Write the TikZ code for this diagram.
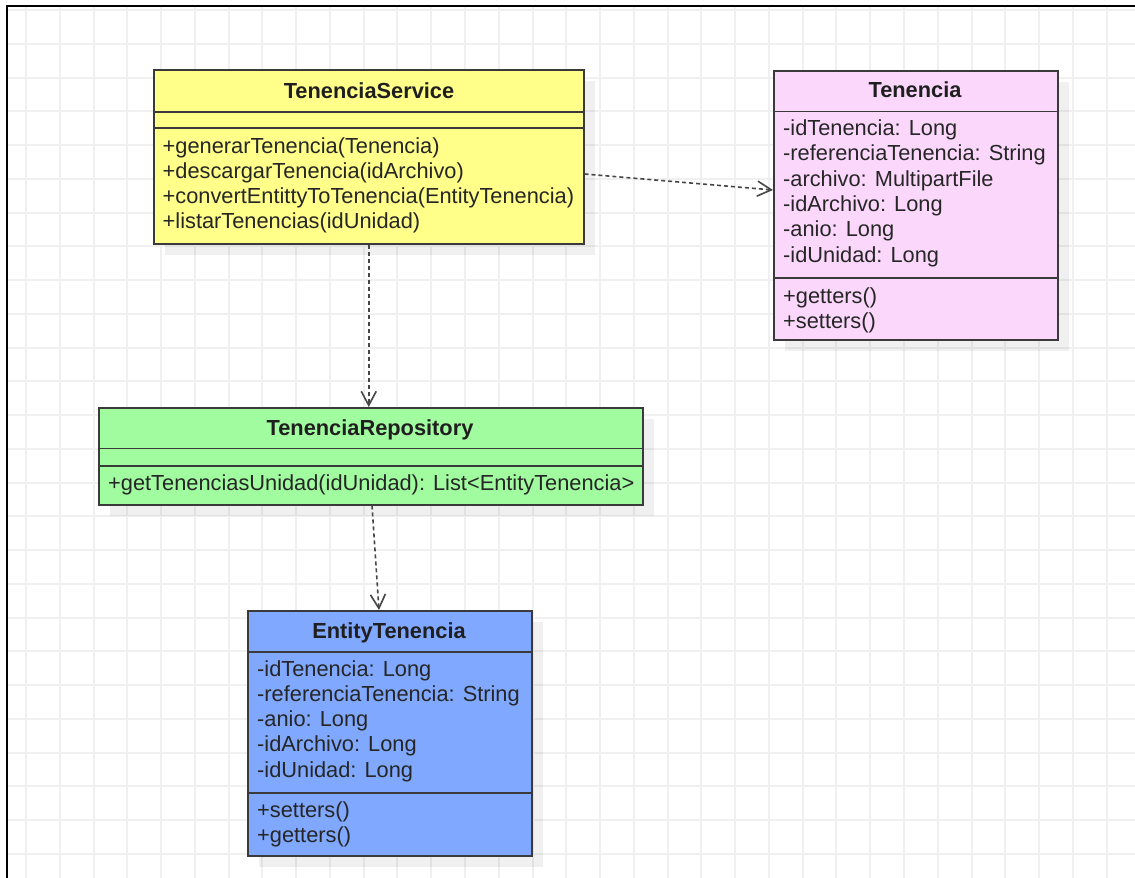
\documentclass[tikz,border=0pt]{standalone}
\usepackage{fontspec}
\setmainfont{Liberation Sans}
\usetikzlibrary{arrows.meta}
\usetikzlibrary{shadows}
\definecolor{svcyellow}{RGB}{255,255,138}
\definecolor{tenpink}{RGB}{251,216,251}
\definecolor{repogreen}{RGB}{161,252,160}
\definecolor{entblue}{RGB}{127,168,254}
\definecolor{boxedge}{RGB}{58,58,58}
\definecolor{gridgray}{RGB}{240,240,240}
\definecolor{depgray}{RGB}{70,70,70}
\tikzstyle{class box}=[draw=boxedge, line width=1.5pt, inner sep=0, anchor=north west, drop shadow={shadow xshift=11pt, shadow yshift=-11pt, fill=black, opacity=0.06}]
\tikzstyle{class rule}=[draw=boxedge, line width=1.5pt]
\tikzstyle{class name}=[font=\fontsize{21.8}{25}\selectfont\bfseries, text=black!88, inner sep=0, text height=17.5pt, text depth=3pt]
\tikzstyle{member}=[font=\fontsize{21.8}{25}\selectfont, text=black!85, inner sep=0, anchor=west, text height=17.5pt, text depth=3pt]
\tikzstyle{dependency}=[draw=depgray, line width=1.6pt, dash pattern=on 4pt off 3pt, -{Straight Barb[length=14pt, width=15pt]}]
\tikzstyle{gridline}=[draw=gridgray, line width=2pt]

\begin{document}
\begin{tikzpicture}[x=1pt, y=-1pt]
  \useasboundingbox (0,0) rectangle (1135,878);
  % background grid
  \begin{scope}
    \clip (7,6) rectangle (1135,878);
    \foreach \i in {0,...,32}
      \draw[gridline] (26+33.77*\i,0) -- (26+33.77*\i,878);
    \foreach \j in {0,...,26}
      \draw[gridline] (0,10+33.76*\j) -- (1135,10+33.76*\j);
  \end{scope}
  \draw[line width=2.5pt] (7,878) -- (7,6) -- (1135,6);

  \node[class box, fill=svcyellow, minimum width=430pt, minimum height=174pt] (svc) at (153,69) {};
  \node[class name] (svc-name) at (369,91) {TenenciaService};
  \draw[class rule] (svc.west |- 0,112) -- (svc.east |- 0,112);
  \draw[class rule] (svc.west |- 0,128) -- (svc.east |- 0,128);
  \foreach \t [count=\i] in {+generarTenencia(Tenencia), +descargarTenencia(idArchivo),
      +convertEntittyToTenencia(EntityTenencia), +listarTenencias(idUnidad)}
    \node[member] (svc-op\i) at (162.5,121.7+25*\i) {\t};

  \node[class box, fill=tenpink, minimum width=284pt, minimum height=269pt] (ten) at (773,70) {};
  \node[class name] (ten-name) at (915,90.7) {Tenencia};
  \draw[class rule] (ten.west |- 0,111.7) -- (ten.east |- 0,111.7);
  \draw[class rule] (ten.west |- 0,278) -- (ten.east |- 0,278);
  \foreach \t [count=\i] in {-idTenencia: Long, -referenciaTenencia: String, -archivo: MultipartFile,
      -idArchivo: Long, -anio: Long, -idUnidad: Long}
    \node[member] (ten-at\i) at (783,103+25.3*\i) {\t};
  \foreach \t [count=\i] in {+getters(), +setters()}
    \node[member] (ten-op\i) at (783,270.5+25.3*\i) {\t};

  \node[class box, fill=repogreen, minimum width=544pt, minimum height=97pt] (repo) at (98,407) {};
  \node[class name] (repo-name) at (370,428) {TenenciaRepository};
  \draw[class rule] (repo.west |- 0,448.3) -- (repo.east |- 0,448.3);
  \draw[class rule] (repo.west |- 0,466) -- (repo.east |- 0,466);
  \node[member] (repo-op1) at (108,483.5) {+getTenenciasUnidad(idUnidad): List<EntityTenencia>};

  \node[class box, fill=entblue, minimum width=284pt, minimum height=245pt] (ent) at (247,610) {};
  \node[class name] (ent-name) at (389,631.5) {EntityTenencia};
  \draw[class rule] (ent.west |- 0,652) -- (ent.east |- 0,652);
  \draw[class rule] (ent.west |- 0,793) -- (ent.east |- 0,793);
  \foreach \t [count=\i] in {-idTenencia: Long, -referenciaTenencia: String, -anio: Long,
      -idArchivo: Long, -idUnidad: Long}
    \node[member] (ent-at\i) at (257,643.8+25.2*\i) {\t};
  \foreach \t [count=\i] in {+setters(), +getters()}
    \node[member] (ent-op\i) at (257,785+25*\i) {\t};

  \draw[dependency] (svc.east |- 0,174) -- (ten.west |- 0,190);
  \draw[dependency] (svc.south) -- (svc.south |- repo.north);
  \draw[dependency] (repo.south -| 372,0) -- (ent.north -| 379,0);
\end{tikzpicture}
\end{document}
